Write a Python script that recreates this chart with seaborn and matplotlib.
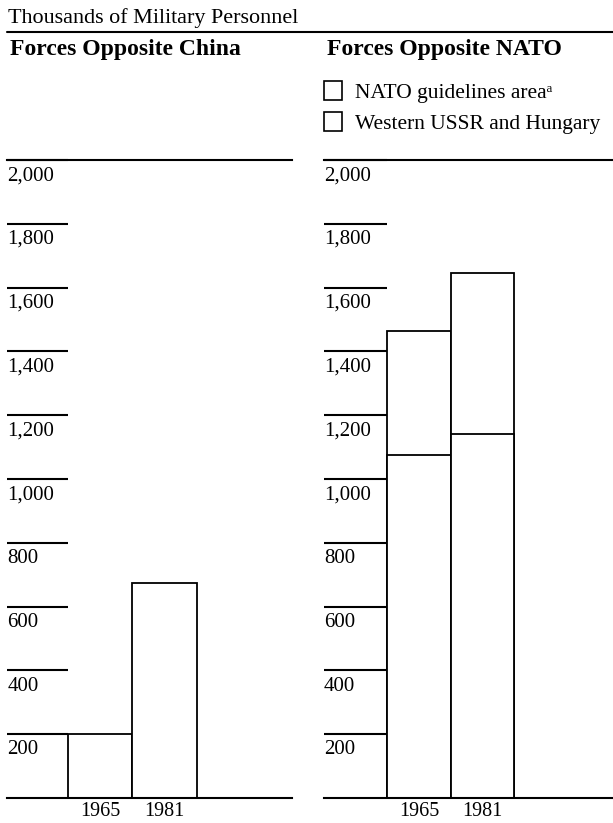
import numpy as np
import pandas as pd
import seaborn as sns
import matplotlib.pyplot as plt
from matplotlib.patches import Patch
from matplotlib.lines import Line2D

# data (thousands of personnel)
years = ["1965", "1981"]
china = [200, 675]
nato_guidelines = [1075, 1140]
western_ussr = [390, 505]
y_ticks = [200, 400, 600, 800, 1000, 1200, 1400, 1600, 1800, 2000]
y_labels = ["200", "400", "600", "800", "1,000", "1,200", "1,400", "1,600", "1,800", "2,000"]
legend_labels = ["NATO guidelines area\u1d43", "Western USSR and Hungary"]

sns.set_style("white", rc={"axes.edgecolor": "black", "text.color": "black",
                           "xtick.color": "black", "ytick.color": "black"})
plt.rcParams["font.family"] = ["Liberation Serif", "DejaVu Serif", "DejaVu Sans"]

W, H = 613, 823
fig = plt.figure(figsize=(W / 100, H / 100), dpi=100)


def px_box(x0, x1, ytop, ybot):
    return [x0 / W, 1 - ybot / H, (x1 - x0) / W, (ybot - ytop) / H]


ax1 = fig.add_axes(px_box(7.3, 291.7, 160, 798))
ax2 = fig.add_axes(px_box(324, 613, 160, 798))

bar_kw = dict(width=1, color="white", edgecolor="black", linewidth=1.3, saturation=1)

df_china = pd.DataFrame({"year": years, "value": china})
sns.barplot(data=df_china, x="year", y="value", ax=ax1, **bar_kw)

df_nato = pd.DataFrame({"year": years, "guidelines": nato_guidelines, "western": western_ussr})
df_nato["total"] = df_nato["guidelines"] + df_nato["western"]
sns.barplot(data=df_nato, x="year", y="total", ax=ax2, **bar_kw)
sns.barplot(data=df_nato, x="year", y="guidelines", ax=ax2, **bar_kw)

for ax, xl in ((ax1, (-1.45, 2.98)), (ax2, (-1.497, 3.054))):
    ax.set_xlim(*xl)
    ax.set_ylim(0, 2000)
    ax.set_xlabel("")
    ax.set_ylabel("")
    for s in ("left", "right"):
        ax.spines[s].set_visible(False)
    for s in ("top", "bottom"):
        ax.spines[s].set_linewidth(1.5)
    # tick lines run from the axis edge to the first bar
    px_per_unit = ax.get_position().width * W / (xl[1] - xl[0])
    tick_len = (-0.5 - xl[0]) * px_per_unit * 72 / fig.dpi
    ax.set_yticks(y_ticks)
    ax.tick_params(axis="y", left=True, direction="in", length=tick_len, width=1.5,
                   labelleft=False)
    for v, lab in zip(y_ticks, y_labels):
        ax.annotate(lab, xy=(0, v), xycoords=("axes fraction", "data"),
                    xytext=(0, -14.5), textcoords="offset points",
                    ha="left", va="baseline", fontsize=15)
    ax.tick_params(axis="x", length=0, pad=3, labelsize=14.5)

# headings
fig.text(8 / W, 1 - 23 / H, "Thousands of Military Personnel", fontsize=15.9, va="baseline")
fig.add_artist(Line2D([7 / W, 1], [1 - 32 / H, 1 - 32 / H], color="black", lw=1.5))
fig.text(10 / W, 1 - 55 / H, "Forces Opposite China", fontsize=17, fontweight="bold", va="baseline")
fig.text(327 / W, 1 - 55 / H, "Forces Opposite NATO", fontsize=17, fontweight="bold", va="baseline")

handles = [Patch(facecolor="white", edgecolor="black", lw=1.2, label=l) for l in legend_labels]
fig.legend(handles=handles, loc="upper left", bbox_to_anchor=(324 / W, 1 - 81 / H),
           frameon=False, fontsize=15.5, handlelength=0.85, handleheight=0.95,
           handletextpad=0.6, labelspacing=0.45, borderpad=0, borderaxespad=0)

fig.savefig("out.png", dpi=100)
